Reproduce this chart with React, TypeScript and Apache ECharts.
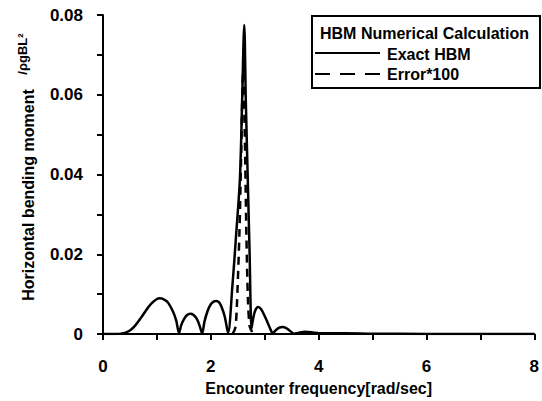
import React, { useEffect, useRef } from "react";
import * as echarts from "echarts";

const exactX = [0, 0.2, 0.4, 0.5, 0.6, 0.7, 0.8, 0.9, 1.0, 1.05, 1.1, 1.2, 1.3, 1.36, 1.41,
  1.45, 1.5, 1.56, 1.62, 1.68, 1.74, 1.79, 1.84,
  1.88, 1.94, 2.0, 2.06, 2.1, 2.15, 2.2, 2.26, 2.32,
  2.4, 2.47, 2.54, 2.58, 2.62, 2.65, 2.685, 2.72, 2.755,
  2.78, 2.82, 2.88, 2.93, 2.99, 3.05, 3.1, 3.15,
  3.2, 3.27, 3.33, 3.4, 3.47, 3.55,
  3.62, 3.75, 3.9, 4.0, 4.5, 5.0, 6.0, 8.0];
const exactY = [0, 0, 0.0003, 0.0009, 0.0022, 0.004, 0.006, 0.0077, 0.0088, 0.009, 0.0089, 0.008, 0.0056, 0.0033, 0.0003,
  0.0022, 0.0037, 0.0048, 0.0051, 0.0048, 0.0038, 0.0022, 0.0002,
  0.003, 0.0058, 0.0075, 0.0082, 0.0083, 0.008, 0.0068, 0.0043, 0.0003,
  0.012, 0.025, 0.039, 0.058, 0.0775, 0.058, 0.039, 0.02, 0.0015,
  0.0035, 0.0058, 0.0068, 0.0063, 0.0048, 0.003, 0.0014, 0.0002,
  0.0009, 0.0016, 0.0018, 0.0015, 0.0008, 0.0001,
  0.0003, 0.0006, 0.0004, 0.0002, 0.0002, 0.0001, 0.00005, 0];

const errX = [2.4, 2.44, 2.46, 2.48, 2.53, 2.56, 2.6, 2.63, 2.66, 2.69, 2.72, 2.75, 2.78];
const errY = [0, 0.001, 0.002, 0.006, 0.025, 0.043, 0.066, 0.05, 0.025, 0.008, 0.002, 0.001, 0];

const xTicks = [0, 2, 4, 6, 8];
const yTicks = [0, 0.02, 0.04, 0.06, 0.08];

const FONT = "'Liberation Sans', Arial, sans-serif";

export default function App() {
  const ref = useRef<HTMLDivElement>(null);
  useEffect(() => {
    if (!ref.current) return;
    const chart = echarts.init(ref.current, undefined, { renderer: "svg" });
    const exact = exactX.map((x, i) => [x, exactY[i]]);
    const err = errX.map((x, i) => [x, errY[i]]);
    chart.setOption({
      animation: false,
      backgroundColor: "#fff",
      grid: { left: 103, right: 7, top: 15, bottom: 63 },
      xAxis: {
        type: "value",
        min: xTicks[0],
        max: xTicks[xTicks.length - 1],
        interval: 2,
        name: "Encounter frequency[rad/sec]",
        nameLocation: "middle",
        nameGap: 40,
        nameTextStyle: { color: "#000", fontSize: 16, fontWeight: "bold", fontFamily: FONT },
        axisLine: { show: true, onZero: false, lineStyle: { color: "#000", width: 2 } },
        axisTick: { show: true, length: 6, lineStyle: { color: "#000", width: 2 } },
        minorTick: { show: true, splitNumber: 2, length: 6, lineStyle: { color: "#000", width: 2 } },
        axisLabel: { color: "#000", fontSize: 17, fontWeight: "bold", fontFamily: FONT, margin: 24 },
        splitLine: { show: false },
      },
      yAxis: {
        type: "value",
        min: yTicks[0],
        max: yTicks[yTicks.length - 1],
        interval: 0.02,
        axisLine: { show: true, lineStyle: { color: "#000", width: 2 } },
        axisTick: { show: true, length: 6, lineStyle: { color: "#000", width: 2 } },
        minorTick: { show: true, splitNumber: 2, length: 6, lineStyle: { color: "#000", width: 2 } },
        axisLabel: {
          color: "#000", fontSize: 17, fontWeight: "bold", fontFamily: FONT, margin: 20,
          formatter: (v: number) => (v === 0 ? "0" : v.toFixed(2)),
        },
        splitLine: { show: false },
      },
      series: [
        {
          name: "Exact HBM",
          type: "line",
          data: exact,
          showSymbol: false,
          smooth: 0.3,
          lineStyle: { color: "#000", width: 2.5 },
          z: 3,
        },
        {
          name: "Error*100",
          type: "line",
          data: err,
          showSymbol: false,
          smooth: 0.3,
          lineStyle: { color: "#000", width: 2.5, type: [8, 6] },
          z: 4,
        },
      ],
      graphic: [
        {
          type: "text",
          x: 28,
          y: 195,
          rotation: Math.PI / 2,
          style: {
            text: "Horizontal bending moment",
            fontSize: 16,
            fontWeight: "bold",
            fontFamily: FONT,
            fill: "#000",
            align: "center",
            verticalAlign: "middle",
          },
        },
        {
          type: "text",
          x: 22,
          y: 54,
          rotation: Math.PI / 2,
          style: {
            text: "/ρgBL²",
            fontSize: 13,
            fontWeight: "bold",
            fontFamily: FONT,
            fill: "#000",
            align: "center",
            verticalAlign: "middle",
          },
        },
        {
          type: "rect",
          shape: { x: 312, y: 16, width: 228, height: 72 },
          style: { fill: "#fff", stroke: "#000", lineWidth: 2 },
          z: 10,
        },
        {
          type: "text",
          x: 320,
          y: 33,
          z: 11,
          style: { text: "HBM Numerical Calculation", fontSize: 16, fontWeight: "bold", fontFamily: FONT, fill: "#000", verticalAlign: "middle" },
        },
        {
          type: "line",
          z: 11,
          shape: { x1: 315, y1: 53, x2: 380, y2: 53 },
          style: { stroke: "#000", lineWidth: 2 },
        },
        {
          type: "text",
          x: 387,
          y: 54,
          z: 11,
          style: { text: "Exact HBM", fontSize: 16, fontWeight: "bold", fontFamily: FONT, fill: "#000", verticalAlign: "middle" },
        },
        {
          type: "line",
          z: 11,
          shape: { x1: 315, y1: 74, x2: 380, y2: 74 },
          style: { stroke: "#000", lineWidth: 2, lineDash: [15, 10] },
        },
        {
          type: "text",
          x: 387,
          y: 74,
          z: 11,
          style: { text: "Error*100", fontSize: 16, fontWeight: "bold", fontFamily: FONT, fill: "#000", verticalAlign: "middle" },
        },
      ],
    });
    return () => chart.dispose();
  }, []);
  return <div ref={ref} style={{ width: 542, height: 401, position: "absolute", left: 0, top: 0 }} />;
}
